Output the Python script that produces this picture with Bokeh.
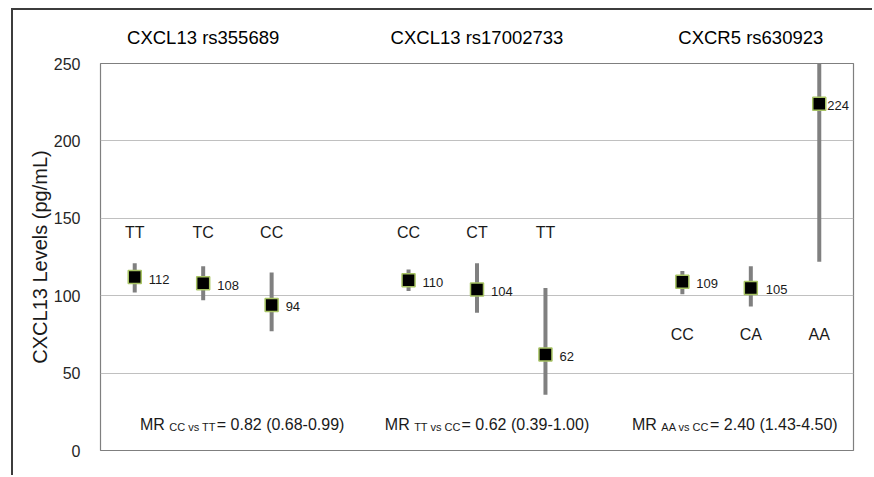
from bokeh.plotting import figure
from bokeh.models import Range1d, FixedTicker, Label, ColumnDataSource, LinearAxis
from bokeh.core.properties import value
from bokeh.embed import file_html
from bokeh.resources import INLINE

# ---- data ----
groups = ["CXCL13 rs355689", "CXCL13 rs17002733", "CXCR5 rs630923"]
genotypes = [["TT", "TC", "CC"], ["CC", "CT", "TT"], ["CC", "CA", "AA"]]
means = [[112, 108, 94], [110, 104, 62], [109, 105, 224]]
ci_low = [[102, 97, 77], [103, 89, 36], [101, 93, 122]]
ci_high = [[121, 119, 115], [117, 121, 105], [116, 119, 320]]
mr_contrast = ["CC vs TT", "TT vs CC", "AA vs CC"]
mr_value = [0.82, 0.62, 2.40]
mr_low = [0.68, 0.39, 1.43]
mr_high = [0.99, 1.00, 4.50]
y_ticks = [0, 50, 100, 150, 200, 250]

FONT = "Liberation Sans"
# Arial / Liberation Sans advance widths (1/1000 em)
W = {' ': 278, '(': 333, ')': 333, '-': 333, '.': 278, '=': 584, 'A': 667, 'C': 722,
     'M': 833, 'R': 722, 'T': 611, 'v': 500, 's': 500}
for d in "0123456789":
    W[d] = 556


def tw(s, size):
    return sum(W.get(c, 556) for c in s) / 1000.0 * size


slots_per_group = 4
xs, ys, lo, hi, gts, labs, gx = [], [], [], [], [], [], []
for g, gname in enumerate(groups):
    for i, gt in enumerate(genotypes[g]):
        xs.append(g * slots_per_group + i + 0.5)
        ys.append(means[g][i])
        lo.append(ci_low[g][i])
        hi.append(ci_high[g][i])
        gts.append(gt)
        labs.append(str(means[g][i]))
        gx.append(g)
n_slots = len(groups) * slots_per_group - 1
centers = [g * slots_per_group + (len(genotypes[g]) - 1) / 2 + 0.5 for g in range(len(groups))]

src = ColumnDataSource(dict(x=xs, y=ys, lo=lo, hi=hi, gt=gts, lab=labs))

p = figure(width=861, height=467, output_backend="svg", toolbar_location=None,
           x_range=Range1d(0, n_slots), y_range=Range1d(0, 250),
           min_border_left=87, min_border_top=53, min_border_right=21, min_border_bottom=27,
           background_fill_color="white", border_fill_color="white",
           margin=(8, 0, 0, 11),
           styles={"border-left": "2px solid #3c3c3c", "border-top": "2px solid #3c3c3c"})

p.outline_line_color = "#7f7f7f"
p.outline_line_width = 1.2
p.xaxis.visible = False
p.xgrid.visible = False
p.ygrid.grid_line_color = "#c0c0c0"
p.ygrid.grid_line_width = 1

ax = p.yaxis[0]
ax.ticker = FixedTicker(ticks=y_ticks)
ax.axis_line_color = None
ax.major_tick_line_color = None
ax.minor_tick_line_color = None
ax.major_label_text_font = FONT
ax.major_label_text_font_size = "16px"
ax.major_label_text_color = "#262626"
ax.major_label_standoff = 14
ax.axis_label = "CXCL13 Levels (pg/mL)"
ax.axis_label_text_font = FONT
ax.axis_label_text_font_size = "20px"
ax.axis_label_text_font_style = "normal"
ax.axis_label_text_color = "#1a1a1a"
ax.axis_label_standoff = 0

# group titles as an axis above the frame
top_ax = LinearAxis(ticker=FixedTicker(ticks=centers),
                    major_label_overrides={c: name for c, name in zip(centers, groups)})
top_ax.axis_line_color = None
top_ax.major_tick_line_color = None
top_ax.minor_tick_line_color = None
top_ax.major_label_text_font = FONT
top_ax.major_label_text_font_size = "18.5px"
top_ax.major_label_text_color = "black"
top_ax.major_label_standoff = 10
p.add_layout(top_ax, "above")

# error bars
p.segment(x0="x", y0="lo", x1="x", y1="hi", source=src, line_color="#808080", line_width=4)
# points
p.scatter(x="x", y="y", source=src, marker="square", size=13,
          fill_color="black", line_color="#a8c464", line_width=1.5)

# value labels
label_dx = [14, 14, 14, 14, 14, 14, 14, 15, 8]
src.data["dx"] = label_dx
p.text(x="x", y="y", text="lab", source=src, x_offset="dx", y_offset=2,
       text_font=value(FONT), text_font_size="13px", text_color="#1a1a1a",
       text_baseline="middle", text_align="left")

# genotype labels
geno_row = [141, 141, 75]
gsrc = ColumnDataSource(dict(x=xs, y=[geno_row[g] for g in gx], t=gts))
p.text(x="x", y="y", text="t", source=gsrc, text_font=value(FONT), text_font_size="16px",
       text_color="#1a1a1a", text_baseline="middle", text_align="center")

# MR statements with subscripts
mr_dx = [39, 10, -16]
MAIN, SUB = 16, 11
for g in range(len(groups)):
    cx = centers[g]
    m1 = "MR"
    sub = mr_contrast[g]
    m2 = f"= {mr_value[g]:.2f} ({mr_low[g]:.2f}-{mr_high[g]:.2f})"
    total = tw(m1 + " ", MAIN) + tw(sub, SUB) + 1 + tw(m2, MAIN)
    x0 = mr_dx[g] - total / 2
    xsub = x0 + tw(m1 + " ", MAIN)
    x2 = xsub + tw(sub, SUB) + 1
    for txt, off, size, dy in [(m1, x0, MAIN, 26), (sub, xsub, SUB, 23.5), (m2, x2, MAIN, 26)]:
        p.add_layout(Label(x=cx, y=0, text=txt, x_offset=off, y_offset=dy,
                           text_font=FONT, text_font_size=f"{size}px", text_color="#1a1a1a",
                           text_align="left", text_baseline="alphabetic"))

open("out.html", "w").write(file_html(p, INLINE))
